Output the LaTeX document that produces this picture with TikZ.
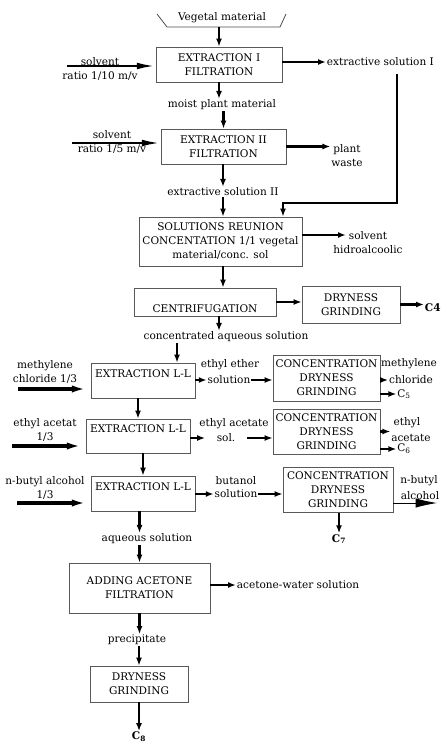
\documentclass[tikz,border=0pt]{standalone}
\usepackage{fontspec}
\setmainfont{DejaVu Serif}
\usetikzlibrary{arrows.meta}

\begin{document}
\begin{tikzpicture}[x=0.75pt,y=-0.75pt,line join=miter,>=Latex,
    every node/.style={font=\fontsize{7.9}{10.5}\selectfont},
    box/.style={draw=black!65,line width=0.6pt,align=center,inner sep=1pt},
    lbl/.style={align=center,inner sep=0.5pt},
    sz/.style 2 args={minimum width=#1*0.75pt,minimum height=#2*0.75pt},
    flow/.style={-{Latex[length=6pt,width=4.5pt]},line width=1.6pt},
    feed/.style={-{Latex[length=14pt,width=5pt]},line width=2.4pt}]

\useasboundingbox (0,0) rectangle (442,745);

% hopper and first extraction
\draw[black!70,line width=0.6pt] (157,14) -- (167,27) -- (280,27) -- (286,14);
\node[lbl] (veg) at (222,18) {Vegetal material};
\coordinate (hop) at (219,27);

\node[box,sz={126}{35}] (b1) at (219,64.5) {EXTRACTION I\\FILTRATION};
\node[lbl] (sv1) at (100,69) {solvent\\ratio 1/10 m/v};
\coordinate (f1) at (67,66);
\node[lbl,anchor=west] (es1) at (326,62) {extractive solution I};
\node[lbl] (moist) at (222,105) {moist plant material};

\node[box,sz={125}{35}] (b2) at (223.5,146.5) {EXTRACTION II\\FILTRATION};
\node[lbl] (sv2) at (112,142) {solvent\\ratio 1/5 m/v};
\coordinate (f2) at (72,143);
\node[lbl] (waste) at (347,156) {plant\\waste};
\node[lbl] (es2) at (223,192) {extractive solution II};

\coordinate (r1) at (397,74);
\coordinate (r2) at (283,203);

\node[box,sz={163}{49}] (b3) at (220.5,241.5) {SOLUTIONS REUNION\\CONCENTATION 1/1 vegetal\\material/conc. sol};
\node[lbl] (sh) at (368,242.5) {solvent\\hidroalcoolic};
\coordinate (shin) at (346,235);

\node[box,sz={142}{28}] (b4) at (205,302) {\phantom{X}\\CENTRIFUGATION};
\node[box,sz={98}{37}] (b5) at (351,304.5) {DRYNESS\\GRINDING};
\node[lbl,anchor=west] (c4) at (424,308) {\textbf{C4}};
\node[lbl] (conc) at (226,337) {concentrated aqueous solution};

% liquid-liquid extractions
\node[box,sz={104}{35}] (b6) at (143,380.5) {EXTRACTION L-L\\\phantom{X}};
\node[lbl] (mc) at (45,372) {methylene\\chloride 1/3};
\coordinate (f3) at (18,389);
\node[lbl] (ee1) at (230,365) {ethyl ether};
\node[lbl] (ee2) at (229,380) {solution};
\node[box,sz={107}{46}] (b7) at (326.5,378) {CONCENTRATION\\DRYNESS\\GRINDING};
\node[lbl] (mo1) at (409,364) {methylene};
\node[lbl] (mo2) at (411,380) {chloride};
\node[lbl] (c5) at (404,394) {C\textsubscript{5}};

\node[box,sz={104}{34}] (b8) at (138,436) {EXTRACTION L-L\\\phantom{X}};
\node[lbl] (ea) at (45,430) {ethyl acetat\\1/3};
\coordinate (f4) at (12,446);
\node[lbl] (eas1) at (234,424) {ethyl acetate};
\node[lbl] (eas2) at (226,438) {sol.};
\node[box,sz={107}{45}] (b9) at (326.5,431.5) {CONCENTRATION\\DRYNESS\\GRINDING};
\node[lbl] (ac1) at (407,423) {ethyl};
\node[lbl] (ac2) at (411,438) {acetate};
\node[lbl] (c6) at (404,449) {C\textsubscript{6}};

\node[box,sz={104}{35}] (b10) at (143,493.5) {EXTRACTION L-L\\\phantom{X}};
\node[lbl] (nb) at (45,488) {n-butyl alcohol\\1/3};
\coordinate (f5) at (17,503);
\node[lbl] (bu1) at (236,481) {butanol};
\node[lbl] (bu2) at (236,494) {solution};
\node[box,sz={110}{45}] (b11) at (338,490) {CONCENTRATION\\DRYNESS\\GRINDING};
\node[lbl] (nbo1) at (419,481) {n-butyl};
\node[lbl] (nbo2) at (420,496) {alcohol};
\coordinate (nbend) at (437,503);
\node[lbl] (c7) at (339,539) {\textbf{C\textsubscript{7}}};

% precipitation
\node[lbl] (aq) at (147,539) {aqueous solution};
\node[box,sz={141}{50}] (b12) at (139.5,588) {ADDING ACETONE\\FILTRATION};
\node[lbl,anchor=west] (aw) at (236,585) {acetone-water solution};
\node[lbl] (pr) at (137,640) {precipitate};
\node[box,sz={98}{36}] (b13) at (139,684) {DRYNESS\\GRINDING};
\node[lbl] (c8) at (139,737) {\textbf{C\textsubscript{8}}};

% connectors
\draw[flow] (hop) -- (hop |- b1.north);
\draw[feed,line width=1.8pt] (f1) -- (f1 -| b1.west);
\draw[flow] (b1.east |- es1) -- (es1.west);
\draw[flow] (b1.south) -- (b1.south |- moist.north);
\draw[flow] (moist.south -| b2.north) -- (b2.north);
\draw[feed,line width=1.8pt] (f2) -- (f2 -| b2.west);
\draw[flow] (b2.east) -- (b2.east -| waste.west);
\draw[flow] (b2.south -| es2) -- (es2.north);
\draw[flow] (es2.south) -- (es2.south |- b3.north);
\draw[flow,line width=2pt] (r1) |- (r2) -- (r2 |- b3.north);
\draw[flow] (b3.east |- shin) -- (shin);

\draw[flow] (b3.south -| es2) -- (es2 |- b4.north);
\draw[flow] (b4.east) -- (b4.east -| b5.west);
\draw[flow] (b5.east) -- (b5.east -| c4.west);
\draw[flow] ([xshift=10.5pt]b4.south) -- ([xshift=10.5pt]b4.south |- conc.north);
\draw[flow] ([xshift=25.5pt]b6.north |- conc.south) -- ([xshift=25.5pt]b6.north);

\draw[feed] (f3) -- (f3 -| b6.west);
\draw[flow] (b6.east |- ee2) -- (ee2.west);
\draw[flow] (ee2.east) -- (ee2.east -| b7.west);
\draw[flow] (b7.east |- mo2) -- (mo2.west);
\draw[flow] (b7.east |- c5) -- (c5.west);
\draw[flow] (b6.south -| b8.north) -- (b8.north);

\draw[feed] (f4) -- (f4 -| b8.west);
\draw[flow] (b8.east |- eas2) -- ([xshift=-8pt]eas2.west);
\draw[flow] ([xshift=8pt]eas2.east) -- (eas2 -| b9.west);
\draw[flow] (b9.east) -- (b9.east -| ac2.west);
\draw[flow] (b9.east |- c6) -- (c6.west);
\draw[flow] (b8.south -| b10.north) -- (b10.north);

\draw[feed] (f5) -- (f5 -| b10.west);
\draw[flow] (b10.east |- bu2) -- (bu2.west);
\draw[flow] (bu2.east) -- (bu2 -| b11.west);
\draw[-{Latex[length=16pt,width=7pt]},line width=0.6pt] (b11.east |- nbend) -- (nbend);
\draw[flow] (b11.south -| c7) -- (c7.north);

\draw[flow] (b10.south -| b12.north) -- (aq.north -| b12.north);
\draw[flow] (aq.south -| b12.north) -- (b12.north);
\draw[flow] (b12.east |- aw) -- (aw.west);
\draw[flow] (b12.south) -- (b12.south |- pr.north);
\draw[flow] (pr.south -| b13.north) -- (b13.north);
\draw[flow] (b13.south) -- (b13.south |- c8.north);

\end{tikzpicture}
\end{document}
